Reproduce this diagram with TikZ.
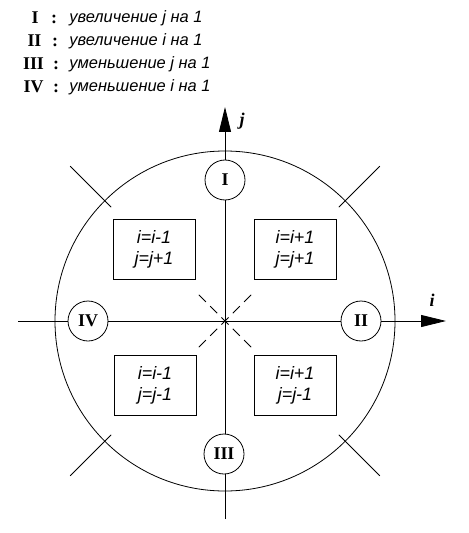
\documentclass[tikz,border=0pt]{standalone}
\usepackage{fontspec}
\setmainfont{Liberation Serif}
\setsansfont{Liberation Sans}
\usetikzlibrary{arrows.meta}
\begin{document}
\begin{tikzpicture}[x=1bp,y=-1bp, line width=0.8bp,
  rom/.style={font=\fontsize{18}{18}\selectfont\bfseries, inner sep=0pt, anchor=base},
  leg/.style={font=\fontsize{16.5}{16.5}\selectfont\sffamily\itshape, anchor=base west, inner sep=0pt},
  numc/.style={circle, draw, fill=white, minimum size=40bp, inner sep=0pt, font=\fontsize{18}{18}\selectfont\bfseries},
  qbox/.style={draw, fill=white, minimum width=82bp, minimum height=60bp, align=center, font=\fontsize{18}{21}\selectfont\sffamily\itshape, inner sep=0pt},
  axlab/.style={font=\fontsize{18}{18}\selectfont\bfseries\itshape, inner sep=0pt},
  axis/.style={-{Triangle[length=25bp,width=12bp]}},
  tick/.style={},
  diag/.style={dash pattern=on 10bp off 6bp},
]
\useasboundingbox (0,0) rectangle (469,533);
% legend
\node[rom] (n1) at (35,24) {I};
\node[rom] (n2) at (34.5,47) {II};
\node[rom] (n3) at (33.5,70) {III};
\node[rom] (n4) at (33.5,93) {IV};
\node[rom] (c1) at (54,24) {:};
\node[rom] (c2) at (55,47) {:};
\node[rom] (c3) at (56,70) {:};
\node[rom] (c4) at (56,93) {:};
\node[leg] (t1) at (69,23) {увеличение j на 1};
\node[leg] (t2) at (69,46) {увеличение i на 1};
\node[leg] (t3) at (69,69) {уменьшение j на 1};
\node[leg] (t4) at (69,92) {уменьшение i на 1};
% axes
\coordinate (O) at (225,321);
\coordinate (jtop) at (225,107);
\coordinate (jbot) at (225,519);
\coordinate (ileft) at (18,321);
\coordinate (iright) at (446,321);
\draw[axis] (jbot) -- (jtop);
\draw[axis] (ileft) -- (iright);
\node[axlab] (jl) at (242,121) {j};
\node[axlab] (il) at (432,300) {i};
% big circle
\node[circle, draw, minimum size=340bp, inner sep=0pt] (big) at (O) {};
% ticks
\foreach \a in {45,135,225,315} \draw[tick] (O) ++(\a:161) -- ++(\a:58);
% dashed diagonals
\draw[diag] (O) ++(45:37) -- ++(225:74);
\draw[diag] (O) ++(135:37) -- ++(315:74);
% small circles
\node[numc] (I) at (225,180) {I};
\node[numc] (II) at (361,321) {II};
\node[numc] (III) at (224,454) {III};
\node[numc] (IV) at (88,321) {IV};
% boxes
\node[qbox] (tl) at (154,249) {i=i-1\\j=j+1};
\node[qbox] (tr) at (295,249) {i=i+1\\j=j+1};
\node[qbox] (bl) at (155,385) {i=i-1\\j=j-1};
\node[qbox] (br) at (295,385) {i=i+1\\j=j-1};
\end{tikzpicture}
\end{document}
